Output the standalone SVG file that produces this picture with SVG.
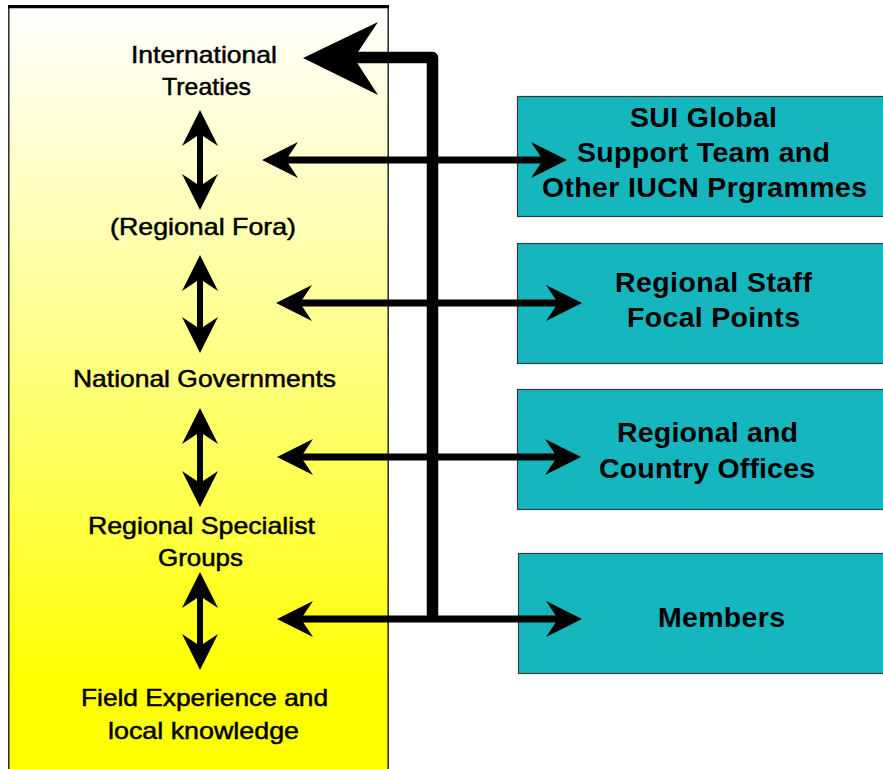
<svg xmlns="http://www.w3.org/2000/svg" width="883" height="769" viewBox="0 0 883 769">
  <defs>
    <linearGradient id="levelFill" x1="0" y1="0" x2="0" y2="1">
      <stop offset="0" stop-color="#ffffff"/>
      <stop offset="0.3" stop-color="#ffffb0"/>
      <stop offset="0.6" stop-color="#ffff58"/>
      <stop offset="0.88" stop-color="#ffff00"/>
      <stop offset="1" stop-color="#ffff00"/>
    </linearGradient>
    <!-- barbed arrowhead; reference point sits at the notch so the shaft hides inside it -->
    <marker id="barb" markerUnits="userSpaceOnUse" markerWidth="36" markerHeight="36"
            refX="12" refY="18" orient="auto-start-reverse" overflow="visible">
      <path d="M0,0 L36,18 L0,36 L12,18 Z" fill="#000"/>
    </marker>
    <style>
      .level { font-family: "Liberation Sans", Arial, sans-serif; font-size: 24px; fill: #000;
               stroke: #000; stroke-width: 0.5; text-anchor: middle; }
      .unit  { fill: #16b6be; stroke: #3a3a3a; stroke-width: 1.2; }
      .unit-label { font-family: "Liberation Sans", Arial, sans-serif; font-size: 28.5px;
                    font-weight: bold; fill: #000; text-anchor: middle; }
      .link  { fill: none; stroke: #000; stroke-width: 7; marker-start: url(#barb); marker-end: url(#barb); }
      .step  { fill: none; stroke: #000; stroke-width: 6; marker-start: url(#barb); marker-end: url(#barb); }
    </style>
  </defs>

  <rect width="883" height="769" fill="#ffffff"/>

  <!-- governance levels panel -->
  <g id="levels-panel">
    <rect x="8.8" y="6.5" width="379.4" height="770" fill="url(#levelFill)" stroke="#333" stroke-width="1.6"/>
    <line x1="8" y1="6.6" x2="389" y2="6.6" stroke="#000" stroke-width="3.2"/>
  </g>

  <g id="international-treaties">
    <text class="level" x="204" y="63" textLength="146" lengthAdjust="spacingAndGlyphs">International</text>
    <text class="level" x="206.5" y="95" textLength="89" lengthAdjust="spacingAndGlyphs">Treaties</text>
  </g>
  <g id="regional-fora">
    <text class="level" x="203" y="235" textLength="186" lengthAdjust="spacingAndGlyphs">(Regional Fora)</text>
  </g>
  <g id="national-governments">
    <text class="level" x="204.5" y="387" textLength="263" lengthAdjust="spacingAndGlyphs">National Governments</text>
  </g>
  <g id="regional-specialist-groups">
    <text class="level" x="201.5" y="534" textLength="227" lengthAdjust="spacingAndGlyphs">Regional Specialist</text>
    <text class="level" x="200.5" y="566" textLength="85" lengthAdjust="spacingAndGlyphs">Groups</text>
  </g>
  <g id="field-experience">
    <text class="level" x="204.5" y="706" textLength="247" lengthAdjust="spacingAndGlyphs">Field Experience and</text>
    <text class="level" x="203.5" y="739" textLength="191" lengthAdjust="spacingAndGlyphs">local knowledge</text>
  </g>

  <!-- partner units -->
  <g id="sui-global-support">
    <rect class="unit" x="517.5" y="96.5" width="380" height="120"/>
    <text class="unit-label" x="703.5" y="127" textLength="147" lengthAdjust="spacing">SUI Global</text>
    <text class="unit-label" x="703.5" y="162" textLength="253" lengthAdjust="spacing">Support Team and</text>
    <text class="unit-label" x="704.5" y="197" textLength="325" lengthAdjust="spacing">Other IUCN Prgrammes</text>
  </g>
  <g id="regional-staff">
    <rect class="unit" x="517.5" y="243.5" width="380" height="120"/>
    <text class="unit-label" x="713.5" y="292" textLength="197" lengthAdjust="spacing">Regional Staff</text>
    <text class="unit-label" x="713.5" y="327" textLength="173" lengthAdjust="spacing">Focal Points</text>
  </g>
  <g id="regional-country-offices">
    <rect class="unit" x="517.5" y="389.5" width="380" height="120"/>
    <text class="unit-label" x="707.5" y="442" textLength="181" lengthAdjust="spacing">Regional and</text>
    <text class="unit-label" x="707" y="478" textLength="216" lengthAdjust="spacing">Country Offices</text>
  </g>
  <g id="members">
    <rect class="unit" x="518.5" y="553.5" width="380" height="120"/>
    <text class="unit-label" x="721.5" y="627" textLength="127" lengthAdjust="spacing">Members</text>
  </g>

  <g id="connectors">
    <!-- vertical links between levels -->
    <line class="step" x1="200" y1="134" x2="200" y2="186"/>
    <line class="step" x1="200" y1="279" x2="200" y2="329"/>
    <line class="step" x1="200" y1="432" x2="200" y2="483"/>
    <line class="step" x1="200" y1="596" x2="200" y2="646"/>

    <!-- horizontal links between levels and units -->
    <line class="link" x1="286" y1="160" x2="543" y2="160"/>
    <line class="link" x1="300" y1="303" x2="558" y2="303"/>
    <line class="link" x1="301" y1="457" x2="557" y2="457"/>
    <line class="link" x1="301" y1="619" x2="558" y2="619"/>

    <!-- trunk feeding up to the treaties -->
    <path d="M350,57.5 L432.5,57.5 L432.5,622" fill="none" stroke="#000" stroke-width="11.5"
          stroke-linejoin="round"/>
    <polygon points="303,58 378,22 354,58 378,95" fill="#000"/>
  </g>
</svg>
